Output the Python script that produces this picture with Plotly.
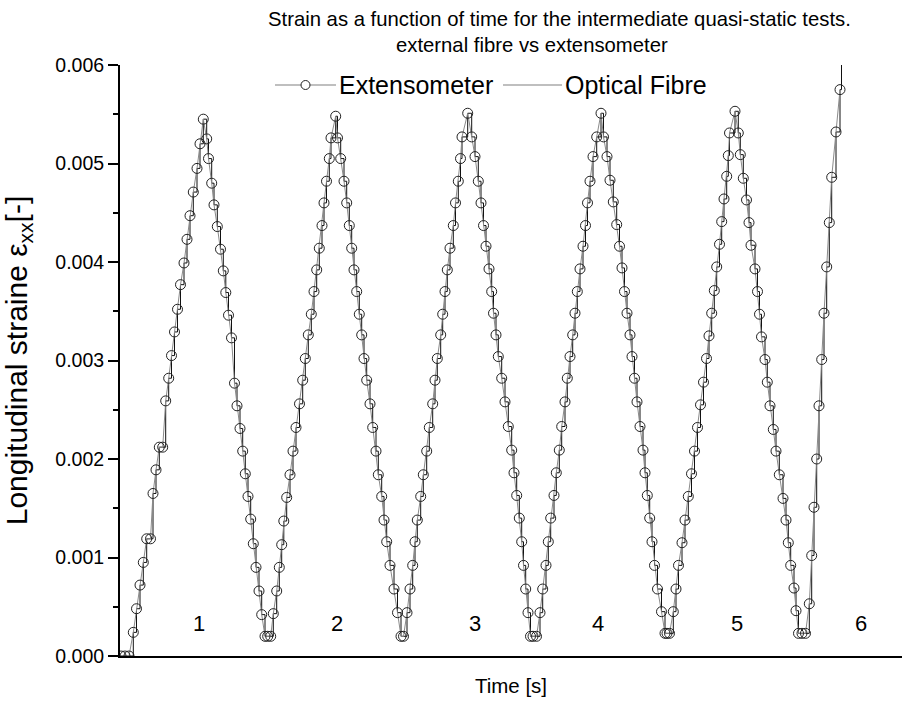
import plotly.graph_objects as go

# ---- Extensometer readings (time on an unlabelled axis, strain in 1e-3) ----
c1_time = [121, 125, 129, 133.3, 136.5, 140, 143.3, 146.7, 150.5, 153, 156, 159.3, 162.7, 165.7, 168.7,
           171.5, 174.5, 177.5, 180.5, 184, 187, 190, 193.3, 197, 200, 203.3,
           206.7, 208.5, 211.7, 214, 217.3, 220.5, 223.3, 225.8, 228.5, 231.5, 234.5, 237, 240, 242.7,
           245.3, 248, 250.7, 253.3, 256, 259, 261.7, 265, 267.7, 270.7]
c1_strain = [0, 0, 0, 0.24, 0.48, 0.72, 0.95, 1.19, 1.19, 1.65, 1.89, 2.12, 2.12, 2.59, 2.82,
             3.05, 3.29, 3.52, 3.77, 3.99, 4.23, 4.47, 4.71, 4.95, 5.20, 5.45,
             5.25, 5.05, 4.80, 4.58, 4.36, 4.13, 3.91, 3.69, 3.46, 3.23, 2.77, 2.54, 2.31, 2.08,
             1.85, 1.62, 1.39, 1.14, 0.90, 0.66, 0.42, 0.20, 0.20, 0.20]

c2_time = [273.3, 276.7, 279.3, 281.7, 283.8, 286.7, 290, 293, 296, 299.5, 302.7, 305.3, 308.3, 311.3,
           314, 316.7, 319.3, 322, 324, 326.5, 329.3, 331, 335.7,
           337.5, 340.7, 344, 346.7, 349.3, 351.7, 354, 356.7, 359.3, 361.7, 364, 366.7, 370, 372.7,
           376, 378.3, 381.7, 384, 386.7, 390, 394, 397.5, 401, 403.5]
c2_strain = [0.43, 0.66, 0.90, 1.13, 1.37, 1.61, 1.84, 2.08, 2.32, 2.56, 2.80, 3.02, 3.26, 3.47,
             3.70, 3.92, 4.14, 4.37, 4.60, 4.82, 5.05, 5.26, 5.48,
             5.26, 5.05, 4.82, 4.60, 4.37, 4.14, 3.92, 3.70, 3.47, 3.26, 3.02, 2.80, 2.56, 2.32,
             2.08, 1.84, 1.62, 1.38, 1.16, 0.92, 0.68, 0.44, 0.20, 0.20]

c3_time = [407, 410, 412.7, 415, 417.3, 420.7, 423.3, 426.7, 429.3, 432.7, 435, 437.3, 440.7, 442.7,
           445, 447.3, 450, 453.3, 455.5, 458.3, 460.5, 462, 467.7,
           471.7, 475, 478.3, 481, 483.5, 486, 489, 491.7, 493.5, 496, 498.3, 501.7, 505, 508.3,
           511.7, 514, 516.7, 519.3, 521.7, 523.5, 525.7, 528, 530.5, 533, 536.5]
c3_strain = [0.44, 0.68, 0.92, 1.16, 1.38, 1.62, 1.84, 2.08, 2.32, 2.56, 2.80, 3.02, 3.26, 3.47,
             3.70, 3.92, 4.14, 4.37, 4.60, 4.82, 5.05, 5.27, 5.51,
             5.27, 5.07, 4.82, 4.60, 4.37, 4.16, 3.93, 3.70, 3.48, 3.26, 3.04, 2.82, 2.58, 2.33,
             2.09, 1.86, 1.63, 1.40, 1.16, 0.92, 0.68, 0.44, 0.20, 0.20, 0.20]

c4_time = [540, 542.7, 546, 548.3, 550.7, 554, 556.3, 559.3, 561.7, 565, 567.3, 570, 572.7, 575,
           577.3, 580, 583, 585.5, 587.5, 590, 593, 596.7, 601,
           603.5, 607, 610, 613.3, 616.7, 619.5, 622, 624.5, 627, 630, 632, 634.5, 637, 640,
           643, 645, 647.3, 649.7, 652, 654.5, 657.5, 661.5, 665, 667, 669.5]
c4_strain = [0.44, 0.68, 0.92, 1.16, 1.40, 1.63, 1.86, 2.09, 2.33, 2.58, 2.82, 3.04, 3.26, 3.48,
             3.70, 3.93, 4.16, 4.37, 4.60, 4.82, 5.07, 5.27, 5.51,
             5.27, 5.07, 4.83, 4.61, 4.38, 4.16, 3.94, 3.70, 3.48, 3.26, 3.04, 2.82, 2.58, 2.33,
             2.09, 1.86, 1.63, 1.40, 1.16, 0.92, 0.68, 0.45, 0.23, 0.23, 0.23]

c5_time = [673.3, 676, 678.5, 682, 685, 688.3, 691.5, 694.5, 697.5, 700.5, 703.5, 706.5, 709, 711.7,
           714.3, 716.7, 719.5, 721.7, 724, 726.7, 728.3, 729.5, 735,
           738.3, 740.3, 743.3, 746.5, 749, 751, 755, 757.5, 759.5, 761.5, 765, 767.3, 770, 773.3,
           776, 779.3, 783, 786, 788.3, 790.7, 794, 796, 798.5, 802, 805.5]
c5_strain = [0.45, 0.68, 0.92, 1.15, 1.38, 1.62, 1.85, 2.08, 2.32, 2.55, 2.78, 3.02, 3.25, 3.48,
             3.71, 3.95, 4.18, 4.41, 4.64, 4.87, 5.08, 5.31, 5.53,
             5.31, 5.09, 4.85, 4.63, 4.40, 4.17, 3.93, 3.70, 3.47, 3.24, 3.01, 2.78, 2.54, 2.30,
             2.08, 1.84, 1.60, 1.38, 1.15, 0.92, 0.69, 0.46, 0.23, 0.23, 0.23]

c6_time = [809.3, 811.7, 814, 816.7, 819, 821.7, 824, 826.7, 829.3, 831.7, 836, 840]
c6_strain = [0.53, 1.02, 1.51, 2.00, 2.54, 3.01, 3.48, 3.95, 4.40, 4.86, 5.32, 5.75]

# ---- Optical fibre: start and end samples beyond the extensometer record ----
fibre_start_time = [120]
fibre_start_strain = [0.0]
fibre_end_time = [841.5]
fibre_end_strain = [6.3]

# ---- Cycle labels ----
cycle_labels = ["1", "2", "3", "4", "5", "6"]
cycle_label_time = [199, 337, 475, 598, 737, 861]
cycle_label_strain = [0.33, 0.33, 0.33, 0.33, 0.33, 0.33]

y_ticks = [0.000, 0.001, 0.002, 0.003, 0.004, 0.005, 0.006]

ext_time = c1_time + c2_time + c3_time + c4_time + c5_time + c6_time
ext_strain = [v * 1e-3 for v in c1_strain + c2_strain + c3_strain + c4_strain + c5_strain + c6_strain]
fib_time = fibre_start_time + ext_time + fibre_end_time
fib_strain = [v * 1e-3 for v in fibre_start_strain] + ext_strain + [v * 1e-3 for v in fibre_end_strain]

FONT = "Liberation Sans, Arial, sans-serif"

W, H = 902, 704
AXIS_LEFT, AXIS_RIGHT, AXIS_TOP, AXIS_BOTTOM = 120, 902, 65, 656
PLOT_H = AXIS_BOTTOM - AXIS_TOP


def paper_y(py):
    return (AXIS_BOTTOM - py) / PLOT_H


fig = go.Figure()
fig.add_trace(go.Scatter(
    x=fib_time, y=fib_strain, name="Optical Fibre", mode="lines",
    line=dict(color="#111111", width=1, shape="hv"), showlegend=False,
))
fig.add_trace(go.Scatter(
    x=ext_time, y=ext_strain, name="Extensometer", mode="lines+markers",
    line=dict(color="#8a8a8a", width=1), showlegend=False,
    marker=dict(symbol="circle-open", size=10, color="#222222", line=dict(width=1, color="#222222")),
))

for lab, t, s in zip(cycle_labels, cycle_label_time, cycle_label_strain):
    fig.add_annotation(x=t, y=s * 1e-3, text=lab, showarrow=False,
                       font=dict(family=FONT, size=22, color="black"))

# title (two lines)
fig.add_annotation(xref="x", yref="paper", x=559, y=paper_y(19), yanchor="middle",
                   text="Strain as a function of time for the intermediate quasi-static tests.",
                   showarrow=False, font=dict(family=FONT, size=20.3, color="black"))
fig.add_annotation(xref="x", yref="paper", x=532, y=paper_y(45), yanchor="middle",
                   text="external fibre vs extensometer",
                   showarrow=False, font=dict(family=FONT, size=20.3, color="black"))

# legend drawn in the plot (line samples, circle, labels)
ly = paper_y(85)
legend_items = [("Extensometer", 275, 336, True), ("Optical Fibre", 503, 562, False)]
for name, xa, xb, has_marker in legend_items:
    fig.add_shape(type="line", xref="x", yref="paper", x0=xa, x1=xb, y0=ly, y1=ly,
                  line=dict(color="#808080", width=1.2))
    if has_marker:
        fig.add_shape(type="circle", xref="x", yref="paper", xsizemode="pixel", ysizemode="pixel",
                      xanchor=(xa + xb) / 2, yanchor=ly, x0=-4.5, x1=4.5, y0=-4.5, y1=4.5,
                      line=dict(color="#222222", width=1), fillcolor="white")
    fig.add_annotation(xref="x", yref="paper", x=xb + 1, y=ly, xanchor="left", yanchor="middle",
                       text=name, showarrow=False, font=dict(family=FONT, size=25, color="black"))

fig.update_layout(
    width=W, height=H,
    margin=dict(l=AXIS_LEFT, r=W - AXIS_RIGHT, t=AXIS_TOP, b=H - AXIS_BOTTOM, pad=0),
    paper_bgcolor="white", plot_bgcolor="white",
    font=dict(family=FONT, color="black"),
    showlegend=False,
    xaxis=dict(
        range=[AXIS_LEFT, AXIS_RIGHT], showline=True, linecolor="black", linewidth=2, automargin=False,
        showticklabels=False, ticks="", showgrid=False, zeroline=False,
        title=dict(text="Time [s]", font=dict(family=FONT, size=20.5), standoff=22),
    ),
    yaxis=dict(
        range=[0, 0.006], showline=True, linecolor="black", linewidth=2, automargin=False,
        tickvals=y_ticks, tickformat=".3f", ticks="outside", ticklen=10, tickwidth=1.5,
        tickcolor="black", tickfont=dict(family=FONT, size=19.5),
        showgrid=False, zeroline=False,
        minor=dict(dtick=0.0005, ticks="outside", ticklen=5, tickwidth=1.5, tickcolor="black"),
        title=dict(text="Longitudinal straine ε<sub>xx</sub>[-]", font=dict(family=FONT, size=30), standoff=21),
    ),
)

# remove the page's default body margin so the 902x704 figure fills the window exactly
fig.write_html("out.html", config={"displayModeBar": False},
               post_script="document.body.style.margin='0';document.body.style.overflow='hidden';")
